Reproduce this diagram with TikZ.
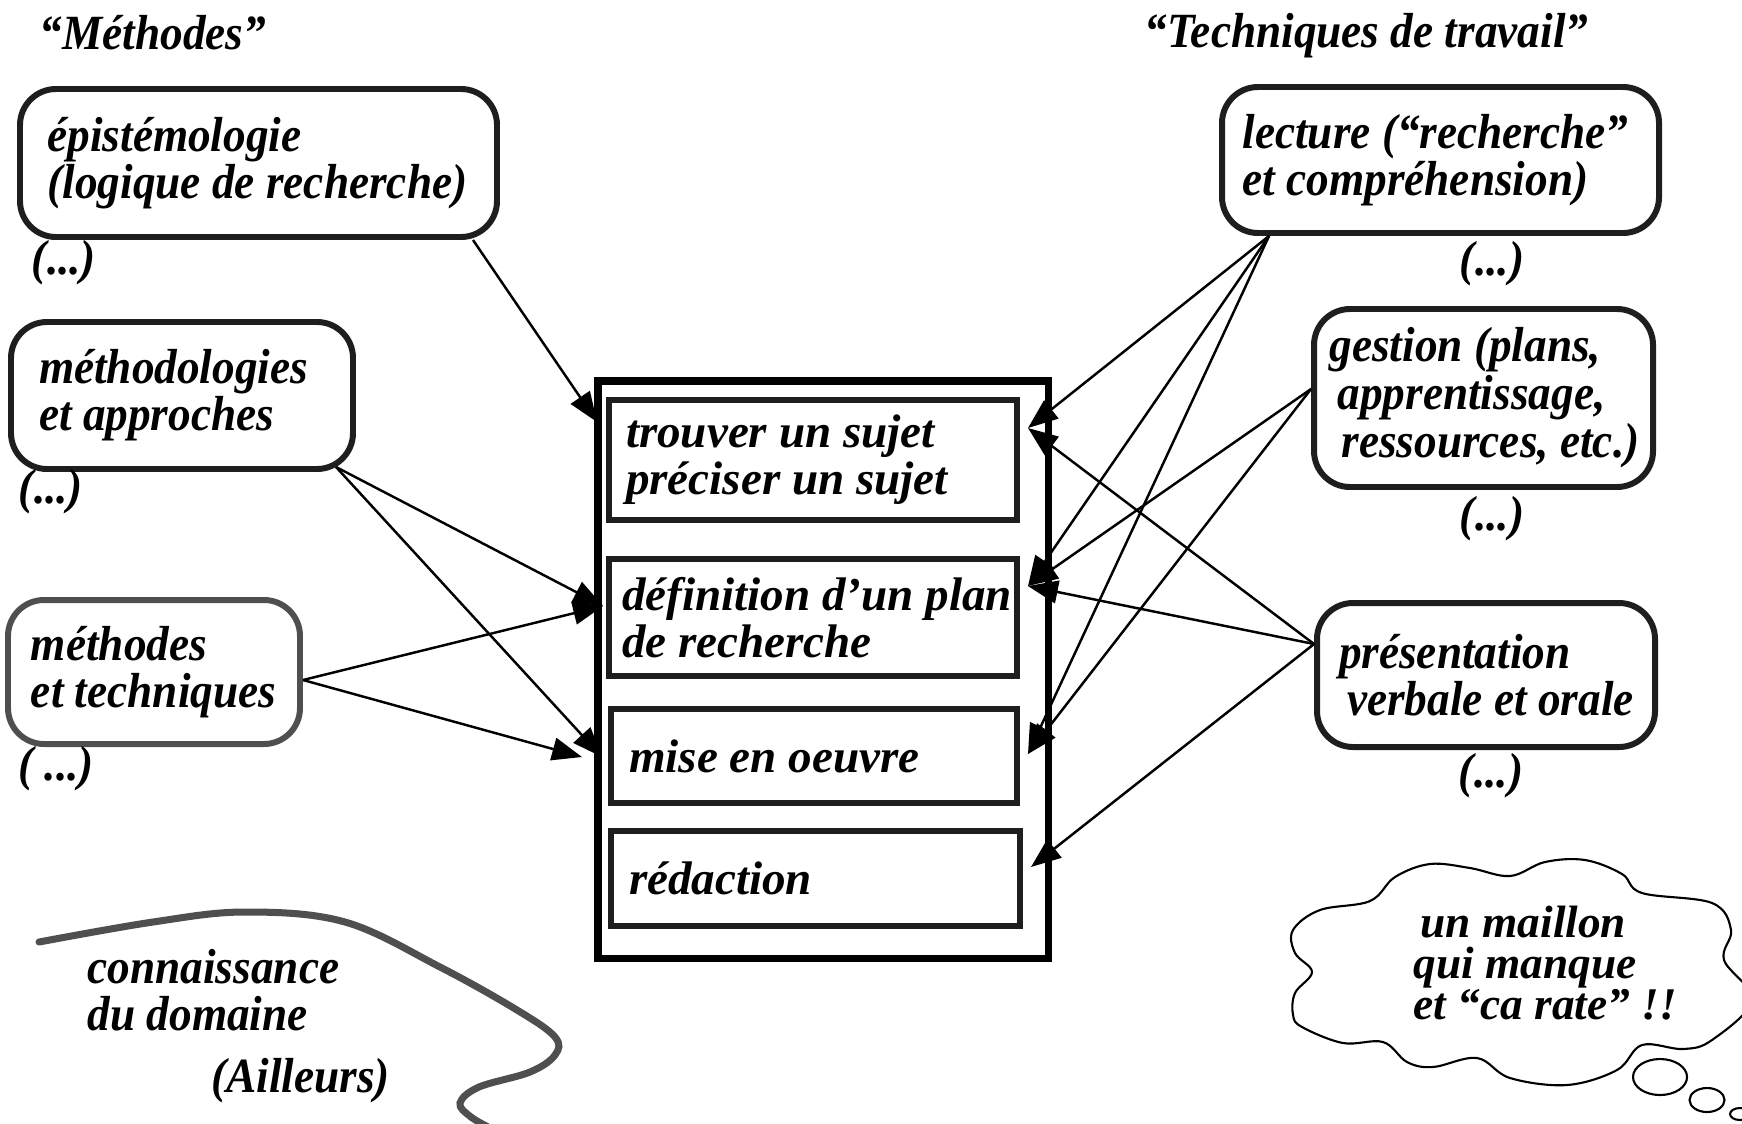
\documentclass[tikz,border=0pt]{standalone}
\usepackage{fontspec}
\setmainfont{Liberation Serif}
\newfontfamily\condfont{Liberation Serif}[FakeStretch=0.92]
\usetikzlibrary{arrows, arrows.meta}
\definecolor{boxgray}{HTML}{1E1E1E}
\definecolor{midgray}{HTML}{4F4F4F}

\begin{document}
\begin{tikzpicture}[
    outerfont/.style={font=\condfont\bfseries\itshape\fontsize{14pt}{13.4pt}\selectfont},
    innerfont/.style={font=\bfseries\itshape\fontsize{13.4pt}{13.4pt}\selectfont},
    roundbox/.style={outerfont, draw=boxgray, line width=1.7pt, rounded corners=0.36cm, align=flush left, inner sep=0pt},
    stepbox/.style={innerfont, draw=boxgray, line width=1.7pt, align=flush left, inner sep=0pt},
    link/.style={line width=0.7pt, -{Triangle[length=8.5pt, width=6.5pt]}}
  ]
      \useasboundingbox (0,0) rectangle (17.42,-11.23);
      \clip (0,0) rectangle (17.42,-11.23);

      \node[outerfont, anchor=west, inner sep=0pt] (meth) at (0.39,-0.33) {“Méthodes”};
      \node[outerfont, anchor=west, inner sep=0pt] (tech) at (11.44,-0.36) {“Techniques de travail”};

      \node[roundbox, minimum width=4.77cm, minimum height=1.48cm, text width=4.22cm] (epist) at (2.585,-1.63) {\mbox{épistémologie}\\\mbox{(logique de recherche)}};
      \node[roundbox, minimum width=3.42cm, minimum height=1.47cm, text width=2.86cm] (methodo) at (1.82,-3.955) {\mbox{méthodologies}\\\mbox{et approches}};
      \node[roundbox, draw=midgray, minimum width=2.92cm, minimum height=1.44cm, text width=2.46cm] (methtech) at (1.54,-6.72) {\mbox{méthodes}\\\mbox{et techniques}};
      \node[outerfont] (etc1) at (0.64,-2.63) {(...)};
      \node[outerfont] (etc2) at (0.51,-4.92) {(...)};
      \node[outerfont] (etc3) at (0.56,-7.69) {( ...)};

      \node[roundbox, minimum width=4.37cm, minimum height=1.46cm, text width=3.96cm] (lecture) at (14.405,-1.60) {\mbox{lecture (“recherche”}\\\mbox{et compréhension)}};
      \node[roundbox, minimum width=3.39cm, minimum height=1.78cm, text width=3.08cm, font=\condfont\bfseries\itshape\fontsize{14pt}{12.2pt}\selectfont] (gestion) at (14.835,-3.98) {\mbox{gestion (plans,}\\\mbox{\hspace*{2.3pt}apprentissage,}\\\mbox{\hspace*{3.4pt}ressources, etc.)}};
      \node[roundbox, minimum width=3.38cm, minimum height=1.44cm, text width=2.94cm] (present) at (14.86,-6.75) {\mbox{présentation}\\\mbox{\hspace*{2.3pt}verbale et orale}};
      \node[outerfont] (etc4) at (14.92,-2.64) {(...)};
      \node[outerfont] (etc5) at (14.92,-5.19) {(...)};
      \node[outerfont] (etc6) at (14.91,-7.76) {(...)};

      \node[draw, line width=2pt, minimum width=4.5cm, minimum height=5.77cm, inner sep=0pt] (frame) at (8.23,-6.695) {};
      \node[stepbox, minimum width=4.08cm, minimum height=1.2cm, text width=3.74cm] (sujet) at (8.13,-4.60) {\mbox{trouver un sujet}\\\mbox{préciser un sujet}};
      \node[stepbox, minimum width=4.08cm, minimum height=1.17cm, text width=3.82cm] (plan) at (8.13,-6.175) {\mbox{définition d’un plan}\\\mbox{de recherche}};
      \node[stepbox, minimum width=4.06cm, minimum height=0.94cm, text width=3.70cm] (oeuvre) at (8.14,-7.56) {\mbox{mise en oeuvre}};
      \node[stepbox, minimum width=4.09cm, minimum height=0.95cm, text width=3.73cm] (redac) at (8.155,-8.785) {\mbox{rédaction}};

      \draw[link] ([xshift=-0.27cm]epist.south east) -- ([xshift=-0.09cm, yshift=0.38cm]sujet.west);
      \draw[link] ([xshift=-0.2cm, yshift=0.05cm]methodo.south east) -- ([xshift=-0.03cm, yshift=0.115cm]plan.west);
      \draw[link] ([xshift=-0.2cm, yshift=0.05cm]methodo.south east) -- ([xshift=-0.06cm, yshift=-0.01cm]oeuvre.west);
      \draw[link] ([yshift=-0.08cm]methtech.east) -- ([xshift=-0.03cm, yshift=0.115cm]plan.west);
      \draw[link] ([yshift=-0.08cm]methtech.east) -- ([xshift=-0.26cm, yshift=-0.01cm]oeuvre.west);

      \draw[link] ([xshift=0.5cm]lecture.south west) -- ([xshift=0.08cm, yshift=0.32cm]sujet.east);
      \draw[link] ([xshift=0.5cm]lecture.south west) -- ([xshift=0.08cm, yshift=0.315cm]plan.east);
      \draw[link] ([xshift=0.5cm]lecture.south west) -- ([xshift=0.08cm, yshift=0.02cm]oeuvre.east);
      \draw[link] ([yshift=0.09cm]gestion.west) -- ([xshift=0.08cm, yshift=0.315cm]plan.east);
      \draw[link] ([yshift=0.09cm]gestion.west) -- ([xshift=0.08cm, yshift=0.02cm]oeuvre.east);
      \draw[link] ([yshift=0.31cm]present.west) -- ([xshift=0.08cm, yshift=0.32cm]sujet.east);
      \draw[link] ([yshift=0.31cm]present.west) -- ([xshift=0.08cm, yshift=0.315cm]plan.east);
      \draw[link] ([yshift=0.31cm]present.west) -- ([xshift=0.08cm, yshift=0.115cm]redac.east);

      \draw[midgray, line width=2pt, line cap=round] plot[smooth, tension=0.6] coordinates {(0.39,-9.42) (1.53,-9.22) (2.45,-9.12) (3.45,-9.22) (4.40,-9.67) (5.17,-10.10) (5.55,-10.37) (5.55,-10.55) (5.30,-10.72) (4.79,-10.87) (4.60,-11.03) (4.71,-11.17) (4.94,-11.30)};
      \node[outerfont, anchor=west, align=left, inner sep=0pt] (domaine) at (0.87,-9.90) {connaissance\\du domaine};
      \node[outerfont] (ailleurs) at (3.005,-10.81) {(Ailleurs)};

      \draw[line width=0.6pt] plot[smooth cycle, tension=0.6] coordinates {(12.93,-9.30) (13.20,-9.10) (13.70,-9.01) (13.95,-8.77) (14.30,-8.64) (14.70,-8.68) (15.10,-8.76) (15.45,-8.62) (15.85,-8.60) (16.22,-8.74) (16.42,-8.93) (17.12,-9.03) (17.31,-9.30) (17.24,-9.60) (17.52,-10.00) (17.12,-10.40) (16.83,-10.49) (16.42,-10.45) (16.17,-10.70) (15.67,-10.85) (15.10,-10.78) (14.77,-10.58) (14.33,-10.67) (14.07,-10.62) (13.83,-10.42) (13.43,-10.43) (13.02,-10.27) (12.93,-10.15) (12.95,-9.93) (13.12,-9.72) (12.95,-9.53)};
      \draw[line width=0.6pt] (16.60,-10.77) ellipse (0.27cm and 0.18cm);
      \draw[line width=0.6pt] (17.07,-11.00) ellipse (0.175cm and 0.12cm);
      \draw[line width=0.6pt] (17.40,-11.14) ellipse (0.10cm and 0.06cm);
      \node[innerfont, font=\bfseries\itshape\fontsize{12.9pt}{11.7pt}\selectfont, anchor=west, align=left, inner sep=0pt] (maillon) at (14.13,-9.63) {\hspace*{2pt}un maillon\\qui manque\\et “ca rate” !!};
    \end{tikzpicture}
\end{document}
